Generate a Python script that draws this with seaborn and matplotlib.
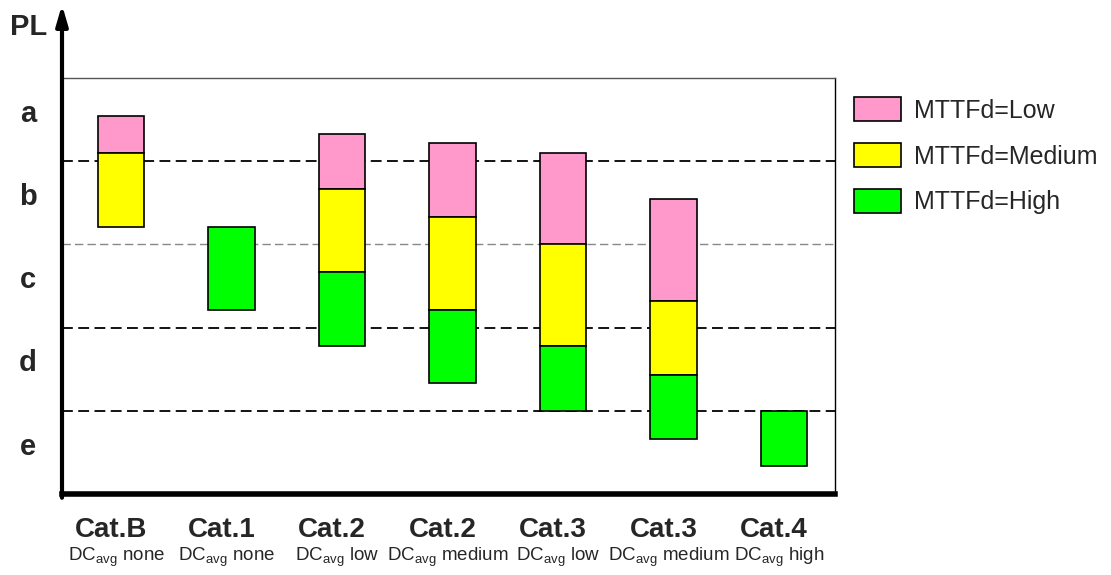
import numpy as np
import pandas as pd
import matplotlib
matplotlib.use("Agg")
import matplotlib.pyplot as plt
import matplotlib.transforms as mtransforms
from matplotlib.patches import Patch
import seaborn as sns

# ==========================
# DATA
# ==========================
keys = ["B_none", "1_none", "2_low", "2_medium", "3_low", "3_medium", "4_high"]
cat_labels = ["Cat.B", "Cat.1", "Cat.2", "Cat.2", "Cat.3", "Cat.3", "Cat.4"]
dc_labels = ["none", "none", "low", "medium", "low", "medium", "high"]

# PL scale from bottom: e=0..1, d=1..2, c=2..3, b=3..4, a=4..5
pl_levels = ["e", "d", "c", "b", "a"]

# floating segments (lower / upper PL value), None = segment not present
low_lo = [4.10, None, 3.67, 3.33, 3.00, 2.32, None]
low_hi = [4.54, None, 4.33, 4.22, 4.10, 3.55, None]
med_lo = [3.21, None, 2.67, 2.21, 1.78, 1.43, None]
med_hi = [4.10, None, 3.67, 3.33, 3.00, 2.32, None]
high_lo = [None, 2.21, 1.78, 1.33, 1.00, 0.66, 0.34]
high_hi = [None, 3.21, 2.67, 2.21, 1.78, 1.43, 1.00]

series = [
    ("MTTFd=Low", low_lo, low_hi, "#FF99CC"),
    ("MTTFd=Medium", med_lo, med_hi, "#FFFF00"),
    ("MTTFd=High", high_lo, high_hi, "#00FF00"),
]

# ==========================
# STYLE
# ==========================
sns.set_style("white")
plt.rcParams["font.family"] = ["Liberation Sans", "DejaVu Sans"]
plt.rcParams["mathtext.fontset"] = "custom"
plt.rcParams["mathtext.rm"] = "Liberation Sans"

fig = plt.figure(figsize=(11.11, 5.75), dpi=100)
ax = fig.add_axes([62 / 1111, 81 / 575, 773 / 1111, 416 / 575])

# PL boundaries
for lvl in [1, 2, 4]:
    ax.axhline(lvl, color="black", lw=1.3, ls=(0, (6, 3)), zorder=0.5)
ax.axhline(3, color="#888888", lw=1.0, ls=(0, (6, 3)), zorder=0.5)

# ==========================
# BARS
# ==========================
for name, lo, hi, col in series:
    rows = [(k, b, t - b) for k, b, t in zip(keys, lo, hi) if b is not None]
    df = pd.DataFrame(rows, columns=["key", "bottom", "height"])
    sns.barplot(data=df, x="key", y="height", order=keys,
                bottom=df["bottom"].to_numpy(), color=col, saturation=1,
                width=0.42, edgecolor="black", linewidth=1.2,
                errorbar=None, zorder=3, ax=ax)

# bars sit slightly right of the column centres in the original
shift = 0.036
ax.set_xlim(-0.5 - shift, len(keys) - 0.5 - shift)
ax.set_ylim(0, 5)
ax.set_xlabel("")
ax.set_ylabel("")
ax.set_yticks([])
ax.set_xticks(range(len(keys)))
ax.set_xticklabels([])
ax.tick_params(axis="x", which="major", length=0)
ax.set_xticks(np.arange(0.5, len(keys) - 0.5, 1) - shift, minor=True)
ax.tick_params(axis="x", which="minor", direction="in", length=6,
               width=1.3, color="black")

# frame
ax.spines["left"].set_visible(False)
ax.spines["bottom"].set_linewidth(4)
ax.spines["bottom"].set_color("black")
ax.spines["top"].set_linewidth(1.0)
ax.spines["top"].set_color("#555555")
ax.spines["right"].set_linewidth(1.0)
ax.spines["right"].set_color("black")

ax.annotate("", xy=(0, 1.176), xytext=(0, -0.009), xycoords="axes fraction",
            arrowprops=dict(arrowstyle="-|>,head_length=1.2,head_width=0.35",
                            lw=3, color="black", shrinkA=0, shrinkB=0),
            annotation_clip=False)

# ==========================
# LABELS
# ==========================
ytrans = mtransforms.blended_transform_factory(ax.transAxes, ax.transData)
for i, lab in enumerate(pl_levels):
    ax.text(-0.044, i + 0.57, lab, transform=ytrans, ha="center", va="center",
            fontsize=21, fontweight="bold")
fig.text(29 / 1111, 1 - 27 / 575, "PL", ha="center", va="center",
         fontsize=21, fontweight="bold")

xtrans = mtransforms.blended_transform_factory(ax.transData, ax.transAxes)
for i, (cat, dc) in enumerate(zip(cat_labels, dc_labels)):
    ax.text(i - 0.09, -0.087, cat, transform=xtrans, ha="center", va="center",
            fontsize=20, fontweight="bold")
    ax.text(i - 0.045, -0.152, "DC$_{\\mathregular{avg}}$ " + dc, transform=xtrans,
            ha="center", va="center", fontsize=13.5)

handles = [Patch(facecolor=col, edgecolor="black", linewidth=1.2, label=name)
           for name, _, _, col in series]
ax.legend(handles=handles, loc="upper left",
          bbox_to_anchor=(854 / 1111, 1 - 97 / 575), bbox_transform=fig.transFigure,
          frameon=False, fontsize=18, handlelength=1.88, handleheight=1.1,
          labelspacing=0.82, handletextpad=0.5, borderpad=0, borderaxespad=0)

fig.savefig("out.png", dpi=100)
